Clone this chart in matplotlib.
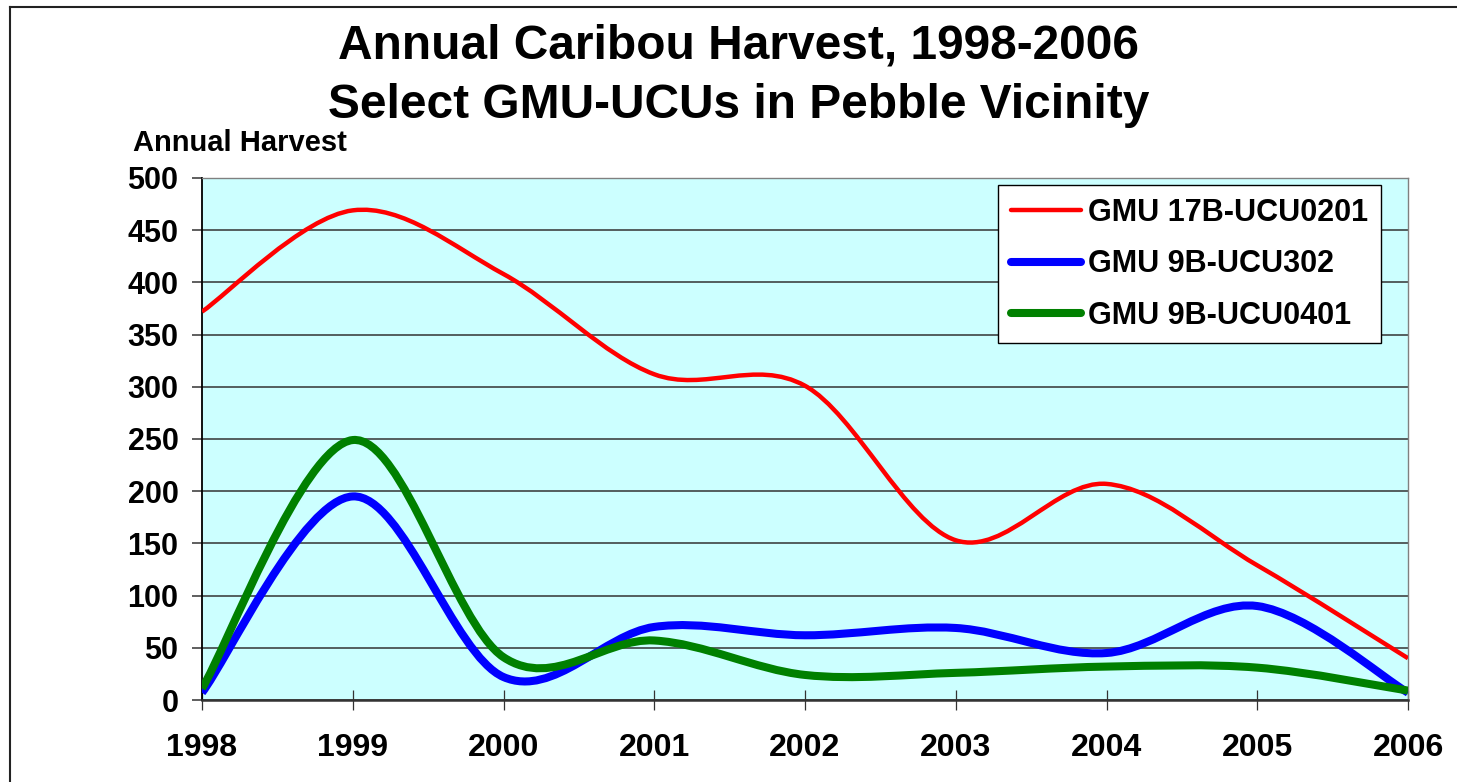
import numpy as np
import matplotlib
matplotlib.use("Agg")
import matplotlib.pyplot as plt
from matplotlib.path import Path
from matplotlib.patches import PathPatch
from matplotlib.lines import Line2D

plt.rcParams['font.family'] = ['Liberation Sans', 'DejaVu Sans']
plt.rcParams['font.weight'] = 'bold'

years = [1998, 1999, 2000, 2001, 2002, 2003, 2004, 2005, 2006]
ucu0201_17b = [372, 469, 408, 312, 301, 153, 207, 129, 40]
ucu302_9b = [7, 195, 22, 70, 62, 69, 45, 90, 7]
ucu0401_9b = [11, 249, 41, 57, 24, 26, 32, 31, 9]

series = [
    ("GMU 17B-UCU0201", ucu0201_17b, "#ff0000", 3.2),
    ("GMU 9B-UCU302", ucu302_9b, "#0000ff", 5.8),
    ("GMU 9B-UCU0401", ucu0401_9b, "#008000", 5.8),
]


def smooth_path(x, y):
    # Excel-style smoothed line: cubic Bezier through each data point
    pts = np.column_stack([x, y]).astype(float)
    n = len(pts)
    verts = [pts[0]]
    codes = [Path.MOVETO]
    for i in range(n - 1):
        p0 = pts[max(i - 1, 0)]
        p1 = pts[i]
        p2 = pts[i + 1]
        p3 = pts[min(i + 2, n - 1)]
        c1 = p1 + (p2 - p0) / 6.0
        c2 = p2 - (p3 - p1) / 6.0
        verts += [c1, c2, p2]
        codes += [Path.CURVE4] * 3
    return Path(verts, codes)


fig = plt.figure(figsize=(14.57, 7.82), dpi=100)
ax = fig.add_axes([202 / 1457, 1 - 700 / 782, 1206 / 1457, 522 / 782])
ax.set_facecolor("#ccffff")

for label, vals, color, lw in series:
    patch = PathPatch(smooth_path(years, vals), facecolor="none", edgecolor=color,
                      lw=lw, joinstyle="round", capstyle="butt", zorder=3)
    ax.add_patch(patch)

ax.set_xlim(1998, 2006)
ax.set_ylim(0, 500)
ax.set_xticks(years)
ax.set_yticks(np.arange(0, 501, 50))
ax.yaxis.grid(True, color="#333333", lw=1.1)
ax.set_axisbelow(True)

for s in ["top", "right"]:
    ax.spines[s].set_color("#808080")
    ax.spines[s].set_linewidth(1.0)
ax.spines["left"].set_color("black")
ax.spines["bottom"].set_color("#333333")
ax.spines["left"].set_linewidth(1.3)
ax.spines["bottom"].set_linewidth(1.8)

ax.tick_params(axis="x", direction="inout", length=14, width=0.9, color="#333333",
               labelsize=23, pad=17)
ax.tick_params(axis="y", direction="out", length=7, width=1.1, color="#333333",
               labelsize=22, pad=10)
for t in ax.get_xticklabels() + ax.get_yticklabels():
    t.set_fontweight("bold")

handles = [Line2D([0], [0], color=c, lw=lw, solid_capstyle="round") for _, _, c, lw in series]
leg = ax.legend(handles, [s[0] for s in series], loc="upper right",
                bbox_to_anchor=(0.9776, 0.9866), borderaxespad=0, fancybox=False,
                framealpha=1, edgecolor="black", prop={"size": 22, "weight": "bold"},
                handlelength=2.3, handletextpad=0.23, labelspacing=0.7,
                borderpad=0.42)
leg.get_frame().set_linewidth(1.0)

fig.text(0.507, 1 - 46 / 782, "Annual Caribou Harvest, 1998-2006", ha="center",
         va="center", fontsize=34.5, fontweight="bold")
fig.text(0.507, 1 - 106 / 782, "Select GMU-UCUs in Pebble Vicinity", ha="center",
         va="center", fontsize=34.5, fontweight="bold")
fig.text(133 / 1457, 1 - 143 / 782, "Annual Harvest", ha="left", va="center",
         fontsize=21, fontweight="bold")

# outer chart frame
fig.add_artist(Line2D([10 / 1457, 1], [1 - 7 / 782] * 2, color="#222222", lw=1.5,
                      transform=fig.transFigure))
fig.add_artist(Line2D([10 / 1457] * 2, [0, 1 - 7 / 782], color="#222222", lw=1.5,
                      transform=fig.transFigure))

fig.savefig("out.png", dpi=100, facecolor="white")
